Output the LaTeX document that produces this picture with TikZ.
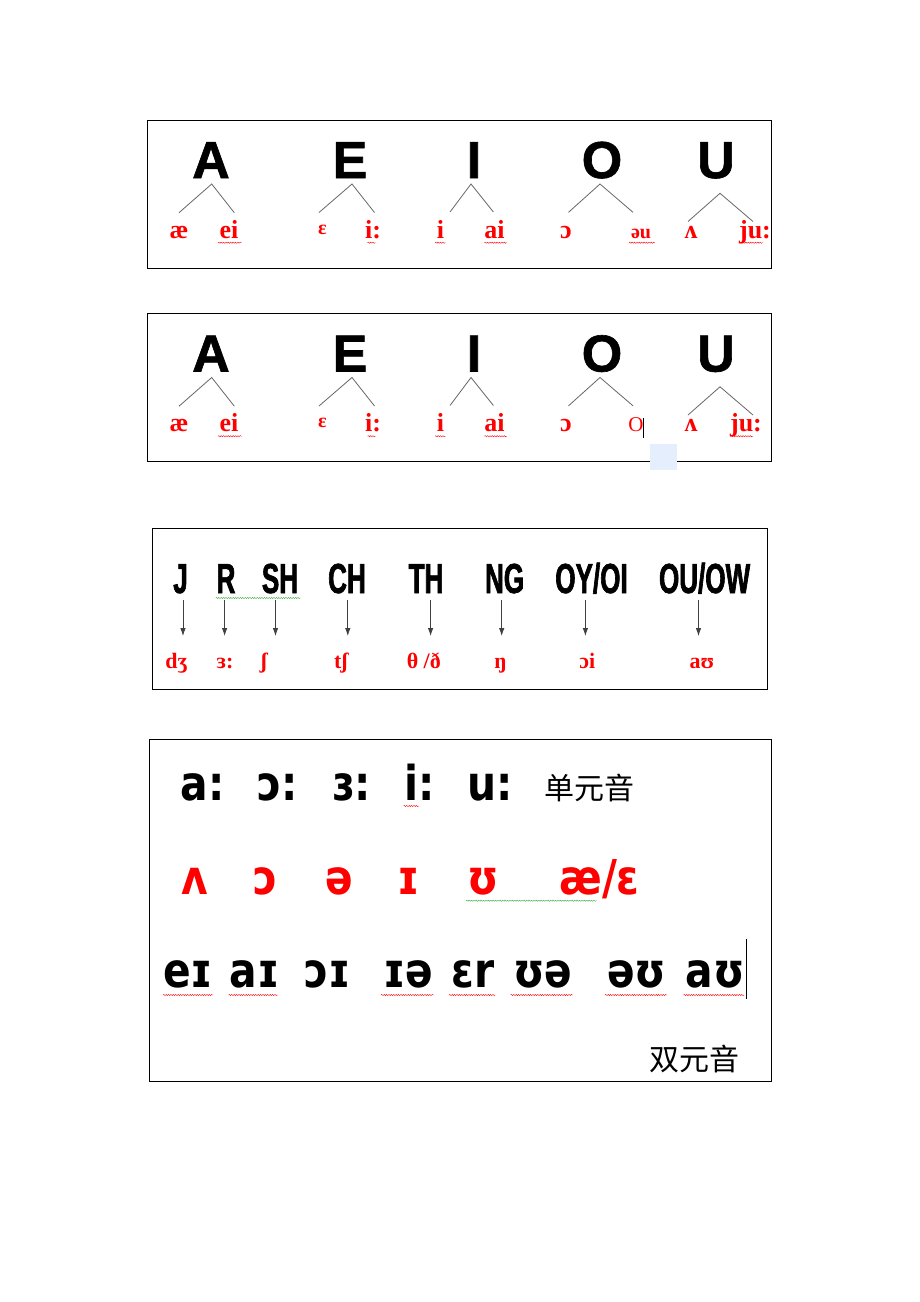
\documentclass[tikz,border=0pt]{standalone}
\usepackage{fontspec}
\setmainfont{Liberation Serif}
\newfontfamily\capsfont[BoldFeatures={FakeBold=1.2}]{Liberation Sans}
\newfontfamily\narrowfont[FakeStretch=0.62,BoldFeatures={FakeBold=1.5}]{Liberation Sans}
\newfontfamily\ipafont[FakeStretch=0.85]{DejaVu Sans}
\newfontfamily\cjk{Noto Sans CJK SC}
\usetikzlibrary{arrows.meta,decorations.pathmorphing}
\definecolor{wavegreen}{RGB}{60,170,60}
\definecolor{paleblue}{RGB}{228,238,252}

\begin{document}
\begin{tikzpicture}[x=1pt,y=-1pt]
    \tikzstyle{frame}=[draw=black,line width=0.8pt]
    \tikzstyle{vowel}=[anchor=base,inner sep=0pt,font=\capsfont\bfseries\fontsize{52}{52}\selectfont]
    \tikzstyle{sound}=[anchor=base,inner sep=0pt,text=red,font=\bfseries\fontsize{26}{26}\selectfont]
    \tikzstyle{small sound}=[sound,font=\bfseries\fontsize{20}{20}\selectfont]
    \tikzstyle{branch}=[draw=black!60,line width=0.8pt]
    \tikzstyle{digraph}=[anchor=base,inner sep=0pt,font=\narrowfont\bfseries\fontsize{42}{42}\selectfont]
    \tikzstyle{pointer}=[draw=black!75,line width=0.8pt,-{Latex[length=8pt,width=5.5pt]}]
    \tikzstyle{symbol}=[anchor=base,inner sep=0pt,font=\ipafont\bfseries\fontsize{48}{48}\selectfont]
    \tikzstyle{red symbol}=[symbol,text=red]
    \tikzstyle{hanzi}=[anchor=base,inner sep=0pt,font=\cjk\fontsize{30}{30}\selectfont]
    \tikzstyle{spell}=[decorate,decoration={snake,amplitude=0.6pt,segment length=2.4pt},draw=red,line width=0.4pt]
    \tikzstyle{spell green}=[spell,draw=wavegreen]

    \useasboundingbox (0,0) rectangle (920,1302);

    % the two A E I O U boxes
    \foreach \b/\dy in {1/0,2/193.5}{
    \begin{scope}[yshift=-\dy pt]
        \draw[frame] (147,120) rectangle (771,268);
        \node[vowel] (V-\b1) at (211,178) {A};
        \node[vowel] (V-\b2) at (350,178) {E};
        \node[vowel] (V-\b3) at (474,178) {I};
        \node[vowel] (V-\b4) at (602,178) {O};
        \node[vowel] (V-\b5) at (716,178) {U};
        \foreach \i/\ax/\ay/\lx/\rx/\ey in {1/211.7/184/179/234.3/212.7,2/352/184/319/374.5/212.5,3/471/184/450/493.4/212,4/600/184/568.5/633/212.3,5/720/193.3/688/753/221.5}
        {
            \coordinate (T-\b\i) at (\ax,\ay);
            \coordinate (L-\b\i) at (\lx,\ey);
            \coordinate (R-\b\i) at (\rx,\ey);
            \draw[branch] (L-\b\i) -- (T-\b\i) -- (R-\b\i);
        }
        \node[sound] (P-\b1) at (179,238) {æ};
        \node[sound] (P-\b2) at (229,238) {ei};
        \node[small sound] (P-\b3) at (322.5,234) {ε};
        \node[sound] (P-\b4) at (373,238) {i:};
        \node[sound] (P-\b5) at (440.5,238) {i};
        \node[sound] (P-\b6) at (494.5,238) {ai};
        \node[sound] (P-\b7) at (566,238) {ɔ};
        \node[sound] (P-\b9) at (691,238) {ʌ};
        \draw[spell] (218,242.7) -- (241.7,242.7);
        \draw[spell] (367.5,242.7) -- (375.7,242.7);
        \draw[spell] (435,242.7) -- (445.5,242.7);
        \draw[spell] (484.4,242.7) -- (507,242.7);
    \end{scope}
    }
    \node[small sound] (P-18) at (641,238) {əu};
    \node[sound] (P-110) at (755,238) {ju:};
    \draw[spell] (629,242.7) -- (654.5,242.7);
    \draw[spell] (742.7,242.7) -- (763,242.7);
    \node[anchor=base,inner sep=0pt,text=red,font=\fontsize{21}{21}\selectfont] (P-28) at (636,431.7) {O};
    \draw[line width=0.9pt] (643.5,418) -- (643.5,438);
    \node[sound] (P-210) at (746,431.5) {ju:};
    \draw[spell] (730.4,436.2) -- (753,436.2);
    \fill[paleblue] (650,444) rectangle (677,470);

    % letter groups and their sounds
    \draw[frame] (152,528) rectangle (767,689);
    \node[digraph] (N-1) at (180.5,593) {J};
    \node[digraph] (N-2) at (226,593) {R};
    \node[digraph] (N-3) at (280,593) {SH};
    \node[digraph] (N-4) at (347,593) {CH};
    \node[digraph] (N-5) at (426,593) {TH};
    \node[digraph] (N-6) at (504.6,593) {NG};
    \node[digraph] (N-7) at (591.5,593) {OY/OI};
    \node[digraph] (N-8) at (704.6,593) {OU/OW};
    \draw[spell green] (215.7,598) -- (300.5,598);
    \foreach \i/\x in {1/183,2/224.6,3/275.5,4/347.8,5/430.6,6/501.7,7/585.4,8/698.5}
    {
        \coordinate (S-\i) at (\x,600);
        \coordinate (E-\i) at (\x,636);
        \draw[pointer] (S-\i) -- (E-\i);
    }
    \node[small sound,font=\bfseries\fontsize{22}{22}\selectfont] (Q-1) at (176.5,668) {dʒ};
    \node[small sound,font=\bfseries\fontsize{22}{22}\selectfont] (Q-2) at (225,668) {ɜ:};
    \node[small sound,font=\bfseries\fontsize{22}{22}\selectfont] (Q-3) at (264,668) {ʃ};
    \node[small sound,font=\bfseries\fontsize{22}{22}\selectfont] (Q-4) at (341,668) {tʃ};
    \node[small sound,font=\bfseries\fontsize{22}{22}\selectfont] (Q-5) at (423.8,668) {θ /ð};
    \node[small sound,font=\bfseries\fontsize{22}{22}\selectfont] (Q-6) at (500.5,668) {ŋ};
    \node[small sound,font=\bfseries\fontsize{22}{22}\selectfont] (Q-7) at (587.4,668) {ɔi};
    \node[small sound,font=\bfseries\fontsize{22}{22}\selectfont] (Q-8) at (702,668) {aʊ};

    % vowel chart
    \draw[frame] (149,739) rectangle (771,1081);
    \node[symbol] (M-1) at (202.5,800) {a:};
    \node[symbol] (M-2) at (278,800) {ɔ:};
    \node[symbol] (M-3) at (351.5,800) {ɜ:};
    \node[symbol] (M-4) at (419.5,800) {i:};
    \node[symbol] (M-5) at (490.5,800) {u:};
    \node[hanzi] (H-1) at (589.5,799) {单元音};
    \draw[spell] (403.6,806) -- (419,806);
    \node[red symbol] (K-1) at (195,894) {ʌ};
    \node[red symbol] (K-2) at (265.7,894) {ɔ};
    \node[red symbol] (K-3) at (339.5,894) {ə};
    \node[red symbol] (K-4) at (409,894) {ɪ};
    \node[red symbol] (K-5) at (483,894) {ʊ};
    \node[red symbol] (K-6) at (599.5,894) {æ/ɛ};
    \draw[spell green] (466,900.7) -- (597,900.7);
    \node[symbol] (D-1) at (188,987) {eɪ};
    \node[symbol] (D-2) at (254.8,987) {aɪ};
    \node[symbol] (D-3) at (327.8,987) {ɔɪ};
    \node[symbol] (D-4) at (408.3,987) {ɪə};
    \node[symbol] (D-5) at (472.8,987) {ɛr};
    \node[symbol] (D-6) at (542.8,987) {ʊə};
    \node[symbol] (D-7) at (636.8,987) {əʊ};
    \node[symbol] (D-8) at (715,987) {aʊ};
    \draw[line width=0.9pt] (746,939) -- (746,999);
    \foreach \l/\r in {163/213,228.6/278,381/434,449/495,510.6/573,605/667,683.5/744}
        \draw[spell] (\l,995) -- (\r,995);
    \node[hanzi] (H-2) at (694,1070) {双元音};
\end{tikzpicture}
\end{document}
